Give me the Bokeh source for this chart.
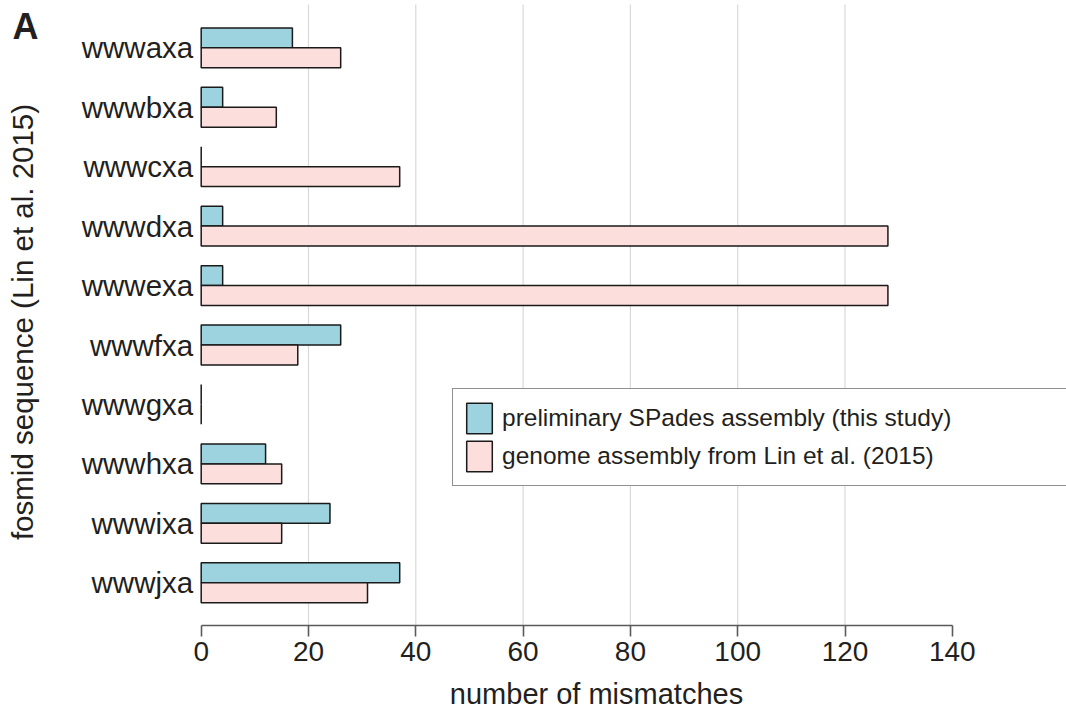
import math
import numpy as np
from bokeh.plotting import figure
from bokeh.models import Range1d, FixedTicker, Label, Legend, LegendItem, ColumnDataSource
from bokeh.embed import file_html
from bokeh.resources import INLINE

categories = ["wwwaxa", "wwwbxa", "wwwcxa", "wwwdxa", "wwwexa",
              "wwwfxa", "wwwgxa", "wwwhxa", "wwwixa", "wwwjxa"]
spades = [17, 4, 0, 4, 4, 26, 0, 12, 24, 37]
lin2015 = [26, 14, 37, 128, 128, 18, 0, 15, 15, 31]
series_names = ["preliminary SPades assembly (this study)",
                "genome assembly from Lin et al. (2015)"]
x_ticks = [0, 20, 40, 60, 80, 100, 120, 140]
grid_ticks = [20, 40, 60, 80, 100, 120]
x_title = "number of mismatches"
y_title = "fosmid sequence (Lin et al. 2015)"
panel_tag = "A"

W, H = 1066, 709
n = len(categories)
ypos = np.arange(n)[::-1].astype(float)  # first category at top

# layout: the frame covers the whole canvas; axes are pinned inside it
X0_PX, X_PER_UNIT = 200.7, 5.365          # pixel of value 0, pixels per unit
TOP_CAT_PX, CAT_STEP = 47.3, 59.44         # pixel of first category, px per category
y_top = (n - 1) + TOP_CAT_PX / CAT_STEP


def px2x(px):
    return (px - X0_PX) / X_PER_UNIT


def px2y(py):
    return y_top - py / CAT_STEP


FONT = "Liberation Sans"
TXT = "#231f20"

p = figure(width=W, height=H, output_backend="svg", toolbar_location=None,
           x_range=Range1d(px2x(0), px2x(W)), y_range=Range1d(px2y(H), px2y(0)),
           min_border_left=0, min_border_right=0, min_border_top=0,
           min_border_bottom=0)
p.outline_line_color = None
p.background_fill_color = "white"
p.xgrid.grid_line_color = None
p.ygrid.grid_line_color = None

axis_y = px2y(624.7)
grid_top = px2y(4)

# vertical grid lines between the axis and the top
p.segment(x0=grid_ticks, x1=grid_ticks, y0=[axis_y] * len(grid_ticks),
          y1=[grid_top] * len(grid_ticks), line_color="#d9d9d9", line_width=1.2)

bh = 0.335
src_a = ColumnDataSource(dict(y=ypos + bh / 2, right=spades))
src_b = ColumnDataSource(dict(y=ypos - bh / 2, right=lin2015))
ra = p.hbar(y="y", left=0, right="right", height=bh, source=src_a,
            fill_color="#9DD3DF", line_color="#1a1a1a", line_width=1.5)
rb = p.hbar(y="y", left=0, right="right", height=bh, source=src_b,
            fill_color="#FCDEDC", line_color="#1a1a1a", line_width=1.5)

# x axis pinned at the bottom of the bar area
xa = p.xaxis[0]
xa.fixed_location = axis_y
xa.ticker = FixedTicker(ticks=x_ticks)
xa.bounds = (0, 140)
xa.axis_line_color = "#5a5a5a"
xa.axis_line_width = 1.6
xa.major_tick_line_color = "#5a5a5a"
xa.major_tick_line_width = 1.6
xa.major_tick_out = 11
xa.major_tick_in = 0
xa.minor_tick_line_color = None
xa.major_label_text_font = FONT
xa.major_label_text_font_size = "28px"
xa.major_label_text_color = TXT
xa.major_label_standoff = 6

# y axis pinned at value 0
ya = p.yaxis[0]
ya.fixed_location = 0
ya.ticker = FixedTicker(ticks=list(ypos))
ya.major_label_overrides = {float(v): c for v, c in zip(ypos, categories)}
ya.axis_line_color = None
ya.major_tick_line_color = None
ya.minor_tick_line_color = None
ya.major_label_text_font = FONT
ya.major_label_text_font_size = "29.5px"
ya.major_label_text_color = TXT
ya.major_label_standoff = 2

# axis titles and panel tag
p.add_layout(Label(x=px2x(596), y=px2y(693), text=x_title, text_font=FONT,
                   text_font_size="29px", text_color=TXT, text_align="center",
                   text_baseline="alphabetic"))
p.add_layout(Label(x=px2x(21.5), y=px2y(321.5), text=y_title, text_font=FONT,
                   text_font_size="29.5px", text_color=TXT, text_align="center",
                   text_baseline="alphabetic", angle=math.pi / 2))
p.add_layout(Label(x=px2x(12), y=px2y(26), text=panel_tag, text_font=FONT,
                   text_font_size="36px", text_font_style="bold",
                   text_color=TXT, text_baseline="alphabetic"))

legend = Legend(items=[LegendItem(label=series_names[0], renderers=[ra]),
                       LegendItem(label=series_names[1], renderers=[rb])],
                location=(452, H - 486), orientation="vertical")
legend.margin = 0
legend.padding = 10
legend.spacing = 0
legend.glyph_width = 32
legend.glyph_height = 38
legend.label_height = 38
legend.label_standoff = 7
legend.label_width = 600
legend.label_text_font = FONT
legend.label_text_font_size = "24.5px"
legend.label_text_color = TXT
legend.border_line_color = TXT
legend.border_line_width = 1
legend.background_fill_color = "white"
legend.background_fill_alpha = 1.0
p.add_layout(legend, "center")

open("out.html", "w").write(file_html(p, INLINE))
